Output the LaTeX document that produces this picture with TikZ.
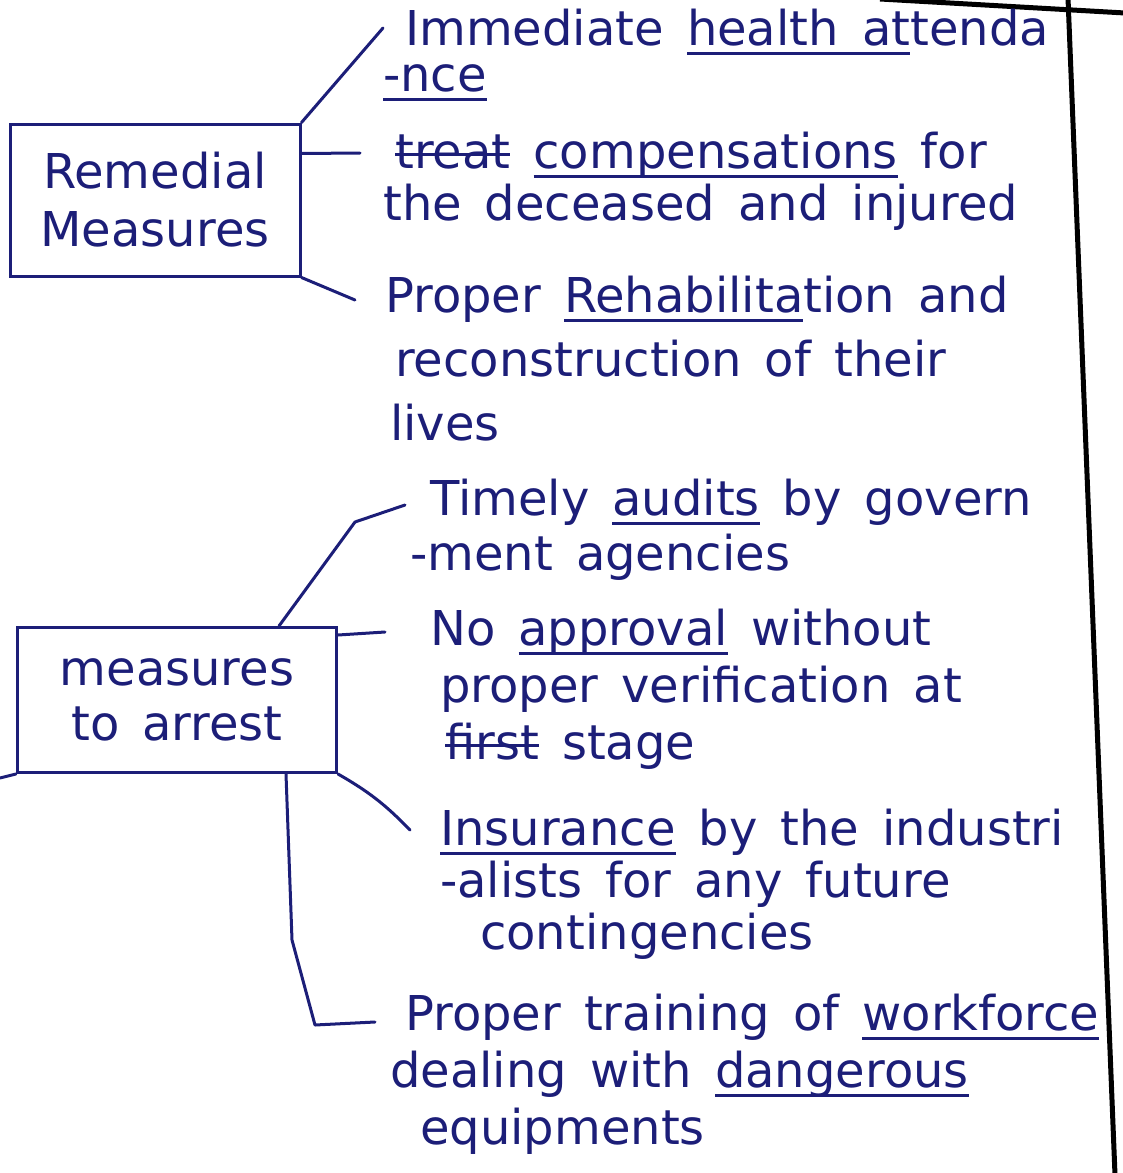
\documentclass[tikz,border=0pt]{standalone}
\usepackage{fontspec}
\setmainfont{DejaVu Sans}
\usetikzlibrary{calc}
\definecolor{ink}{RGB}{28,30,120}
\newsavebox{\hwbox}
\newcommand{\myul}[1]{\sbox{\hwbox}{#1}\rlap{\rule[-9pt]{\wd\hwbox}{2.2pt}}\usebox{\hwbox}}
\newcommand{\mystrike}[1]{\sbox{\hwbox}{#1}\rlap{\rule[13pt]{\wd\hwbox}{2.2pt}}\usebox{\hwbox}}
\newcommand{\hwfont}[1]{\fontsize{48}{#1}\selectfont\spaceskip=0.48em\relax}
\begin{document}
\begin{tikzpicture}[x=1pt,y=-1pt,
  every node/.style={text=ink},
  hw/.style={inner sep=0pt, anchor=north west, align=left},
  boxnode/.style={draw=ink, line width=3pt, inner sep=0pt, align=center},
  conn/.style={draw=ink, line width=3pt, line cap=round, line join=round},
  border/.style={draw=black, line width=5pt}]
\useasboundingbox (0,0) rectangle (1123,1173);
% page border
\coordinate (bt) at (1068,-2);
\coordinate (bb) at (1115,1175);
\coordinate (tl) at (880,-1);
\coordinate (tr) at (1125,13);
\draw[border] (bt) -- (bb);
\draw[border] (tl) -- (tr);
% boxes
\node[boxnode, minimum width=290pt, minimum height=152pt,
      font=\hwfont{58}] (rem) at (155,200) {Remedial\\Measures};
\node[boxnode, minimum width=319pt, minimum height=145pt,
      font=\hwfont{55}] (ar) at (177,700) {measures\\to arrest};
\coordinate (arx) at (0,778);
\draw[conn] (ar.south west) -- (arx);
% items
\node[hw, font=\hwfont{46}] (i1) at (405,9)
  {Immediate \myul{health at}tenda\\\hspace*{-22pt}\myul{-nce}};
\node[hw, font=\hwfont{52}] (i2) at (395,132)
  {\mystrike{treat} \myul{compensations} for\\\hspace*{-12pt}the deceased and injured};
\node[hw, font=\hwfont{64}] (i3) at (385,276)
  {Proper \myul{Rehabilita}tion and\\\hspace*{10pt}reconstruction of their\\\hspace*{5pt}lives};
\node[hw, font=\hwfont{55}] (i4) at (430,479)
  {Timely \myul{audits} by govern\\\hspace*{-20pt}-ment agencies};
\node[hw, font=\hwfont{57}] (i5) at (430,609)
  {No \myul{approval} without\\\hspace*{10pt}proper verification at\\\hspace*{15pt}\mystrike{first} stage};
\node[hw, font=\hwfont{52}] (i6) at (440,809)
  {\myul{Insurance} by the industri\\-alists for any future\\\hspace*{40pt}contingencies};
\node[hw, font=\hwfont{57}] (i7) at (405,994)
  {Proper training of \myul{workforce}\\\hspace*{-15pt}dealing with \myul{dangerous}\\\hspace*{15pt}equipments};
% connectors
\draw[conn] (rem.north east) -- ($(i1.north west)+(-22,19)$);
\draw[conn] ($(rem.north east)+(0,31)$) -- ($(i2.north west)+(-35,21)$);
\draw[conn] (rem.south east) -- ($(i3.north west)+(-30,24)$);
\draw[conn] ($(ar.north east)+(-59,0)$) -- (355,522) -- ($(i4.north west)+(-25,26)$);
\draw[conn] ($(ar.north east)+(0,9)$) -- ($(i5.north west)+(-45,23)$);
\draw[conn] (ar.south east) to[bend left=8] ($(i6.north west)+(-30,21)$);
\draw[conn] ($(ar.south east)+(-52,0)$) -- (292,940) -- (315,1025) -- ($(i7.north west)+(-30,28)$);
\end{tikzpicture}
\end{document}
